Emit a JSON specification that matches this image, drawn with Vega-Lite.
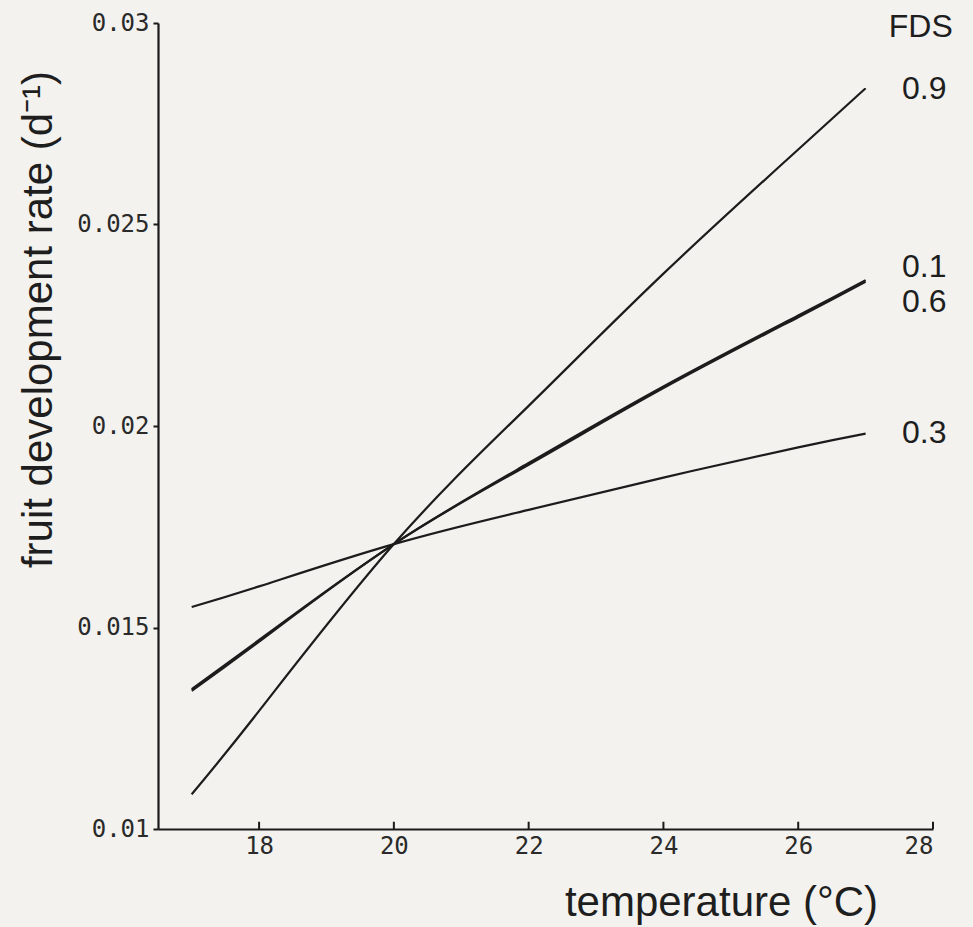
{
  "$schema": "https://vega.github.io/schema/vega-lite/v6.json",
  "autosize": "none",
  "width": 775,
  "height": 806,
  "padding": {"left": 158, "top": 23, "right": 40, "bottom": 98},
  "background": "#f3f2ee",
  "config": {
    "view": {"stroke": null},
    "axis": {"grid": false, "domainColor": "#1a1a1a", "tickColor": "#1a1a1a", "domainWidth": 2.2, "tickWidth": 2}
  },
  "datasets": {
    "curves": [
      {"fds": "0.9", "t": 17, "rate": 0.01086},
      {"fds": "0.9", "t": 18, "rate": 0.01293},
      {"fds": "0.9", "t": 20, "rate": 0.01707},
      {"fds": "0.9", "t": 22, "rate": 0.02050},
      {"fds": "0.9", "t": 24, "rate": 0.02378},
      {"fds": "0.9", "t": 26, "rate": 0.02686},
      {"fds": "0.9", "t": 27, "rate": 0.02838},
      {"fds": "0.1", "t": 17, "rate": 0.01347},
      {"fds": "0.1", "t": 18, "rate": 0.01469},
      {"fds": "0.1", "t": 20, "rate": 0.01707},
      {"fds": "0.1", "t": 22, "rate": 0.01908},
      {"fds": "0.1", "t": 24, "rate": 0.02098},
      {"fds": "0.1", "t": 26, "rate": 0.02274},
      {"fds": "0.1", "t": 27, "rate": 0.02362},
      {"fds": "0.6", "t": 17, "rate": 0.01343},
      {"fds": "0.6", "t": 18, "rate": 0.01465},
      {"fds": "0.6", "t": 20, "rate": 0.01707},
      {"fds": "0.6", "t": 22, "rate": 0.01904},
      {"fds": "0.6", "t": 24, "rate": 0.02094},
      {"fds": "0.6", "t": 26, "rate": 0.02270},
      {"fds": "0.6", "t": 27, "rate": 0.02358},
      {"fds": "0.3", "t": 17, "rate": 0.01551},
      {"fds": "0.3", "t": 18, "rate": 0.01602},
      {"fds": "0.3", "t": 20, "rate": 0.01707},
      {"fds": "0.3", "t": 22, "rate": 0.01792},
      {"fds": "0.3", "t": 24, "rate": 0.01872},
      {"fds": "0.3", "t": 26, "rate": 0.01947},
      {"fds": "0.3", "t": 27, "rate": 0.01981}
    ],
    "labels": [
      {"text": "FDS", "t": 27.344, "rate": 0.02991},
      {"text": "0.9", "t": 27.541, "rate": 0.02836},
      {"text": "0.1", "t": 27.541, "rate": 0.02395},
      {"text": "0.6", "t": 27.541, "rate": 0.02308},
      {"text": "0.3", "t": 27.541, "rate": 0.01983}
    ],
    "xticks": [
      {"t": 18, "lo": 0.01, "hi": 0.01018},
      {"t": 20, "lo": 0.01, "hi": 0.01018},
      {"t": 22, "lo": 0.01, "hi": 0.01018},
      {"t": 24, "lo": 0.01, "hi": 0.01018},
      {"t": 26, "lo": 0.01, "hi": 0.01018},
      {"t": 28, "lo": 0.01, "hi": 0.01018}
    ]
  },
  "layer": [
    {
      "data": {"name": "curves"},
      "mark": {"type": "line", "color": "#1c1c1c", "strokeWidth": 2.2, "interpolate": "natural"},
      "encoding": {
        "x": {
          "field": "t", "type": "quantitative",
          "scale": {"domain": [16.5, 28], "nice": false, "zero": false},
          "axis": {
            "values": [18, 20, 22, 24, 26, 28],
            "format": "d",
            "ticks": false,
            "labelPadding": 5,
            "labelFont": "DejaVu Sans Mono",
            "labelFontSize": 24,
            "labelColor": "#2a2a2a",
            "title": "temperature (°C)",
            "titleFont": "Liberation Sans",
            "titleFontSize": 42,
            "titleFontWeight": "normal",
            "titleColor": "#1e1e1e",
            "titleX": 563,
            "titlePadding": 24
          }
        },
        "y": {
          "field": "rate", "type": "quantitative",
          "scale": {"domain": [0.01, 0.03], "nice": false, "zero": false},
          "axis": {
            "values": [0.01, 0.015, 0.02, 0.025, 0.03],
            "labelExpr": "datum.value + ''",
            "tickSize": 5,
            "labelPadding": 4,
            "labelFont": "DejaVu Sans Mono",
            "labelFontSize": 24,
            "labelColor": "#2a2a2a",
            "title": "fruit development rate (d⁻¹)",
            "titleFont": "Liberation Sans",
            "titleFontSize": 42,
            "titleFontWeight": "normal",
            "titleColor": "#1e1e1e",
            "titleY": 296,
            "titlePadding": 16
          }
        },
        "detail": {"field": "fds", "type": "nominal"}
      }
    },
    {
      "data": {"name": "xticks"},
      "mark": {"type": "rule", "color": "#1a1a1a", "strokeWidth": 2},
      "encoding": {
        "x": {"field": "t", "type": "quantitative"},
        "y": {"field": "lo", "type": "quantitative"},
        "y2": {"field": "hi"}
      }
    },
    {
      "data": {"name": "labels"},
      "mark": {"type": "text", "align": "left", "baseline": "middle", "font": "Liberation Sans", "fontSize": 32, "color": "#1e1e1e"},
      "encoding": {
        "x": {"field": "t", "type": "quantitative"},
        "y": {"field": "rate", "type": "quantitative"},
        "text": {"field": "text", "type": "nominal"}
      }
    }
  ]
}
